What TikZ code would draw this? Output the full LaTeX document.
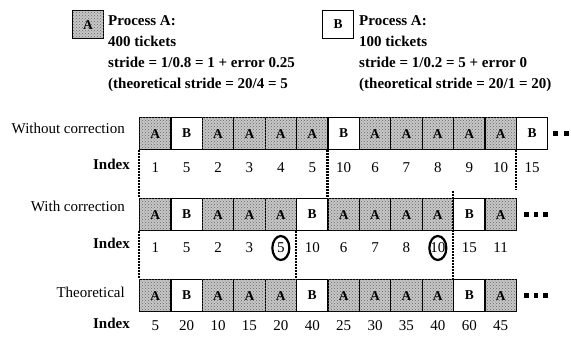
\documentclass[tikz,border=0pt]{standalone}
\usepackage{fontspec}
\setmainfont{Liberation Serif}
\usetikzlibrary{patterns,shapes.geometric}

\tikzset{
  cell/.style={draw=black, line width=1.1pt, minimum width=31.4pt, minimum height=32pt,
    inner sep=0pt, anchor=north west, font=\bfseries\fontsize{13.5}{13.5}\selectfont},
  shadedcell/.style={cell, fill=black!22,
    postaction={pattern=crosshatch dots, pattern color=black!60}},
  plaincell/.style={cell, fill=white},
  idx/.style={font=\fontsize{15}{15}\selectfont, inner sep=0pt},
  rowlabel/.style={font=\fontsize{15}{15}\selectfont, anchor=east, inner sep=0pt},
  idxlabel/.style={font=\bfseries\fontsize{15}{15}\selectfont, anchor=east, inner sep=0pt},
  info/.style={font=\bfseries\fontsize{15}{21}\selectfont, align=left, anchor=north west, inner sep=0pt},
  guide/.style={line width=2.5pt, dash pattern=on 1.8pt off 1.2pt},
  mark ring/.style={draw, line width=2.2pt, ellipse, minimum width=17pt, minimum height=24pt, inner sep=0pt},
  more/.style={fill=black}
}
\def\slotB{B}

\begin{document}
\begin{tikzpicture}[x=1pt,y=-1pt]
\useasboundingbox (0,0) rectangle (571,338);

% legend
\node[shadedcell, minimum width=31pt, minimum height=28pt] (keyA) at (72,10) {A};
\node[info] (infoA) at (108,15) {Process A:\\400 tickets\\stride = 1/0.8 = 1 + error 0.25\\(theoretical stride = 20/4 = 5};
\node[plaincell, minimum width=31pt, minimum height=28pt] (keyB) at (322,10) {B};
\node[info] (infoB) at (359,15) {Process A:\\100 tickets\\stride = 1/0.2 = 5 + error 0\\(theoretical stride = 20/1 = 20)};

% row labels
\node[rowlabel] (l1) at (125,128) {Without correction};
\node[idxlabel] (i1) at (130,164) {Index};
\node[rowlabel] (l2) at (125,206) {With correction};
\node[idxlabel] (i2) at (130,243) {Index};
\node[rowlabel] (l3) at (125,292) {Theoretical};
\node[idxlabel] (i3) at (130,323) {Index};

% without correction
\foreach \t/\n [count=\i from 0] in {A/1,B/5,A/2,A/3,A/4,A/5,B/10,A/6,A/7,A/8,A/9,A/10,B/15}{
  \ifx\t\slotB\def\sty{plaincell}\else\def\sty{shadedcell}\fi
  \node[\sty] (r1c\i) at ({139+31.4*\i},117) {\t};
  \node[idx] (n1c\i) at (r1c\i.center |- 0,168) {\n};
}
% with correction
\foreach \t/\n [count=\i from 0] in {A/1,B/5,A/2,A/3,A/5,B/10,A/6,A/7,A/8,A/10,B/15,A/11}{
  \ifx\t\slotB\def\sty{plaincell}\else\def\sty{shadedcell}\fi
  \node[\sty] (r2c\i) at ({139+31.4*\i},198) {\t};
  \node[idx] (n2c\i) at (r2c\i.center |- 0,248) {\n};
}
% theoretical
\foreach \t/\n [count=\i from 0] in {A/5,B/20,A/10,A/15,A/20,B/40,A/25,A/30,A/35,A/40,B/60,A/45}{
  \ifx\t\slotB\def\sty{plaincell}\else\def\sty{shadedcell}\fi
  \node[\sty] (r3c\i) at ({139+31.4*\i},279) {\t};
  \node[idx] (n3c\i) at (r3c\i.center |- 0,326) {\n};
}

% corrected slots
\node[mark ring] (ring1) at (n2c4) {};
\node[mark ring] (ring2) at (n2c9) {};

% alignment guides
\coordinate (g1end) at (r1c12.south west |- 0,190);
\coordinate (g2start) at (r2c10.north west |- 0,191);
\draw[guide] (r1c0.south west) -- (r2c0.north west);
\draw[guide] (r1c6.south west) -- (r2c6.north west);
\draw[guide] (r1c12.south west) -- (g1end);
\draw[guide] (r2c0.south west) -- (r3c0.north west);
\draw[guide] (r2c5.south west) -- (r3c5.north west);
\draw[guide] (g2start) -- (r3c10.north west);

% continuation marks
\foreach \x in {553,564} \fill[more] (\x,131) rectangle +(4.5,4.5);
\foreach \x in {524,533.5,543} \fill[more] (\x,212) rectangle +(4.5,4.5);
\foreach \x in {524,533.5,543} \fill[more] (\x,293) rectangle +(4.5,4.5);
\end{tikzpicture}
\end{document}
